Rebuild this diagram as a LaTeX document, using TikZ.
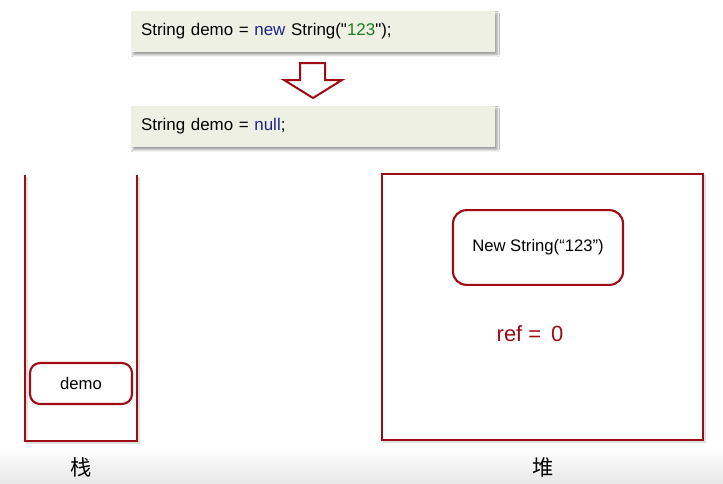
\documentclass[tikz,border=0pt]{standalone}
\usepackage{fontspec}
\setmainfont{Liberation Sans}[Ligatures=TeXOff]
\newfontfamily\cjk{Noto Sans CJK SC}
\usetikzlibrary{shadows.blur}

\definecolor{memred}{RGB}{160,12,22}
\definecolor{codebg}{RGB}{238,240,228}
\definecolor{kwblue}{RGB}{28,36,140}
\definecolor{strgreen}{RGB}{30,122,36}

\tikzset{
  codebox/.style={fill=codebg, minimum width=273pt, minimum height=30.75pt,
    text width=258pt, align=left, inner xsep=7.5pt,
    font=\fontsize{12.7}{14}\selectfont,
    blur shadow={shadow xshift=1.6pt, shadow yshift=-2pt,
      shadow blur radius=1.6pt, shadow blur steps=10, shadow opacity=40}},
  memline/.style={draw=memred, line width=1.9pt},
  memshadow/.style={draw=black, opacity=0.12, line width=2.2pt},
  objbox/.style={draw=memred, line width=1.6pt, rounded corners=7.5pt,
    fill=white, font=\fontsize{12.5}{14}\selectfont},
  arealabel/.style={font=\cjk\fontsize{16}{18}\selectfont}
}

\begin{document}
\begin{tikzpicture}[x=0.75pt,y=-0.75pt]
  \useasboundingbox (0,0) rectangle (723,483);
  \fill[white] (0,0) rectangle (723,483);
  % soft band along the lower edge
  \shade[top color=white, bottom color=black!9] (0,446) rectangle (723,483);

  % the two statements
  \node[codebox] (code1) at (313,31.5)
    {String demo = \textcolor{kwblue}{new} String("\textcolor{strgreen}{123}");};
  \node[codebox] (code2) at (313,126.5)
    {String demo = \textcolor{kwblue}{null};};

  % hollow arrow between the statements
  \draw[memred, line width=1.5pt, fill=white, line join=miter]
    (300,63) -- (325,63) -- (325,80) -- (342,80) -- (313,98)
    -- (284,80) -- (300,80) -- cycle;

  % stack (open at the top), with a faint shadow
  \draw[memshadow] (27,177) -- (27,443) -- (139,443) -- (139,177);
  \draw[memline] (25,175) -- (25,441) -- (137,441) -- (137,175);
  \node[objbox, minimum width=76.5pt, minimum height=30.75pt] (demo) at (81,383.5) {demo};
  \node[arealabel] (stacklbl) at (81,467) {栈};

  % heap
  \draw[memshadow] (384,176) rectangle (705,442);
  \draw[memline, fill=white] (382,174) rectangle (703,440);
  \node[objbox, rounded corners=10pt, minimum width=127.5pt, minimum height=56pt] (obj) at (538,247.5) {New String(“123”)};
  \node[text=memred, font=\fontsize{16.5}{18}\selectfont] (ref) at (530,334) {ref =\, 0};
  \node[arealabel] (heaplbl) at (543,467) {堆};
\end{tikzpicture}
\end{document}
